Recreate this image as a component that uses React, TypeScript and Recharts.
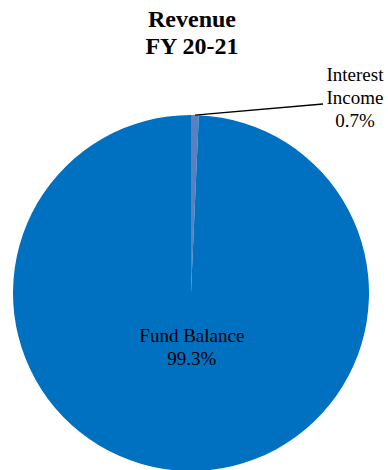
import { PieChart, Pie, Cell } from "recharts";

const categories = ["Interest Income", "Fund Balance"];
const shares = [0.7, 99.3];
const colors = ["#5A80BF", "#0070C0"];

const data = categories.map((name, i) => ({ name, value: shares[i] }));

const RADIAN = Math.PI / 180;
const FONT = "'Liberation Serif', 'Times New Roman', serif";
const labelStyle = { fontFamily: FONT, fontSize: 19, fill: "#000" };

function renderLabel(props: any) {
  const { cx, cy, midAngle, outerRadius, index, percent, name } = props;
  const pct = `${(percent * 100).toFixed(1)}%`;

  if (index === 1) {
    // inside label, below the centre
    const r = outerRadius * 0.3;
    const x = cx + r * Math.cos(-midAngle * RADIAN) + 2;
    const y = cy + r * Math.sin(-midAngle * RADIAN);
    return (
      <text x={x} y={y} textAnchor="middle" style={labelStyle}>
        <tspan x={x} dy={-4}>{name}</tspan>
        <tspan x={x} dy={22.5}>{pct}</tspan>
      </text>
    );
  }

  // small slice: outside label with leader line
  const sx = cx + outerRadius * Math.cos(-midAngle * RADIAN);
  const sy = cy + outerRadius * Math.sin(-midAngle * RADIAN);
  const ex = cx + 132;
  const ey = cy - 189;
  const tx = cx + 164;
  const words = name.split(" ");
  return (
    <g>
      <path d={`M${sx},${sy}L${ex},${ey}`} stroke="#000" strokeWidth={1.3} fill="none" />
      <text x={tx} y={cy - 212} textAnchor="middle" style={labelStyle}>
        <tspan x={tx} dy={0}>{words[0]}</tspan>
        <tspan x={tx} dy={23}>{words[1]}</tspan>
        <tspan x={tx} dy={23}>{pct}</tspan>
      </text>
    </g>
  );
}

export default function App() {
  return (
    <div style={{ position: "absolute", top: 0, left: 0, width: 388, height: 470, background: "#fff", overflow: "hidden" }}>
      <div
        style={{
          position: "absolute",
          top: 6,
          left: 0,
          width: 384,
          textAlign: "center",
          fontFamily: FONT,
          fontWeight: "bold",
          fontSize: 24,
          lineHeight: "27px",
          color: "#000",
        }}
      >
        Revenue
        <br />
        FY 20-21
      </div>
      <PieChart
        width={388}
        height={470}
        margin={{ top: 0, right: 0, bottom: 0, left: 0 }}
        style={{ position: "absolute", top: 0, left: 0 }}
      >
        <Pie
          data={data}
          dataKey="value"
          nameKey="name"
          cx={191}
          cy={293}
          outerRadius={178}
          startAngle={90}
          endAngle={-270}
          stroke="none"
          label={renderLabel}
          labelLine={false}
          isAnimationActive={false}
        >
          {data.map((d, i) => (
            <Cell key={d.name} fill={colors[i]} />
          ))}
        </Pie>
      </PieChart>
    </div>
  );
}
